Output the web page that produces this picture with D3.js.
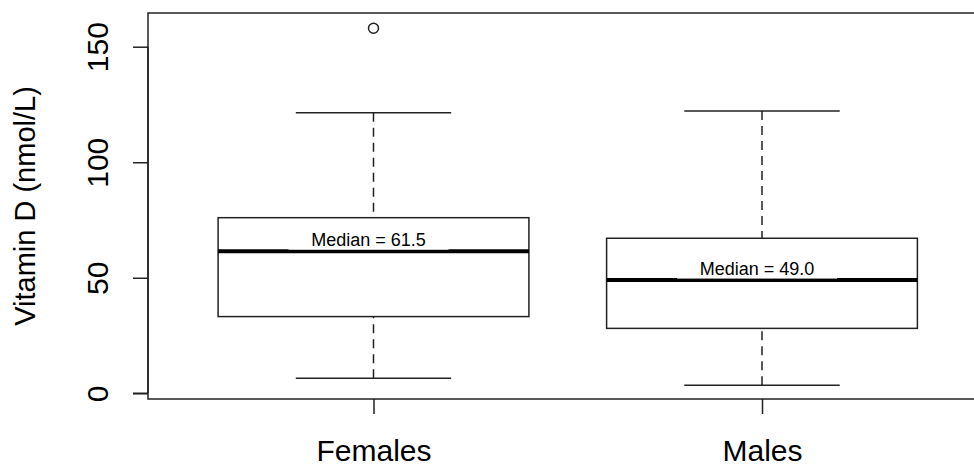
<!DOCTYPE html>
<html lang="en">
<head>
<style>
html, body {
    margin: 0;
    padding: 0;
    background: #fff;
}
svg {
    width: 974px;
    height: 466px;
    display: block;
    font-family: "Liberation Sans", Arial, sans-serif;
}
</style>
</head>
<body>
<svg></svg>

<script src="https://cdn.jsdelivr.net/npm/d3@7/dist/d3.min.js"></script>
<script>
// boxplot of vitamin D by sex (R style)

var groups = ["Females", "Males"];
var lowWhisker = [6.5, 3.5];
var q1 = [33.2, 28.1];
var medians = [61.5, 49.0];
var q3 = [76.0, 67.1];
var highWhisker = [121.4, 122.2];
var outliers = [[158], []];
var yTicks = [0, 50, 100, 150];
var yTitle = "Vitamin D (nmol/L)";

var svg = d3.select("svg");
var ink = "#222";

// plot region (frame), right side runs off the picture
var frame = {left: 148, top: 13, right: 986, bottom: 399};

var yScale = d3.scaleLinear()
    .domain([0, 150])
    .range([393.3, 46.7]);

var xScale = d3.scaleLinear()
    .domain([1, 2])
    .range([373.5, 762]);

var boxW = xScale(1.8) - xScale(1);
var capW = boxW / 2;

var data = groups.map(function(g, i) {
    return {name: g, pos: i + 1, lo: lowWhisker[i], q1: q1[i], med: medians[i],
            q3: q3[i], hi: highWhisker[i], out: outliers[i]};
});

/////////////////////////////////////////
// frame
/////////////////////////////////////////
svg.append("rect")
    .attr("x", frame.left)
    .attr("y", frame.top)
    .attr("width", frame.right - frame.left)
    .attr("height", frame.bottom - frame.top)
    .attr("fill", "none")
    .attr("stroke", ink)
    .attr("stroke-width", 1.5);

/////////////////////////////////////////
// y axis
/////////////////////////////////////////
var yAxis = svg.append("g")
    .attr("transform", "translate(" + frame.left + ",0)")
    .call(d3.axisLeft(yScale).tickValues(yTicks).tickSize(15).tickFormat(d3.format("d")));

yAxis.select(".domain")
    .attr("d", "M-15," + yScale(0) + "H0M0," + yScale(0) + "V" + yScale(150))
    .attr("stroke", ink)
    .attr("stroke-width", 1.5);
yAxis.selectAll(".tick line").attr("stroke", ink).attr("stroke-width", 1.5);
yAxis.selectAll(".tick text")
    .attr("x", null).attr("dy", null)
    .attr("transform", "translate(-40,0) rotate(-90)")
    .attr("text-anchor", "middle")
    .attr("fill", "#000")
    .style("font-size", "30px")
    .style("font-family", "Liberation Sans, Arial, sans-serif");

svg.append("text")
    .attr("transform", "translate(35," + ((frame.top + frame.bottom) / 2) + ") rotate(-90)")
    .attr("text-anchor", "middle")
    .style("font-size", "29px")
    .text(yTitle);

/////////////////////////////////////////
// x axis
/////////////////////////////////////////
var xAxis = svg.append("g")
    .attr("transform", "translate(0," + frame.bottom + ")")
    .call(d3.axisBottom(xScale).tickValues([1, 2]).tickSize(15)
        .tickFormat(function(d) { return groups[d - 1]; }));

xAxis.select(".domain").remove();
xAxis.selectAll(".tick line").attr("stroke", ink).attr("stroke-width", 1.5);
xAxis.selectAll(".tick text")
    .attr("y", 62).attr("dy", null)
    .attr("fill", "#000")
    .style("font-size", "30px")
    .style("font-family", "Liberation Sans, Arial, sans-serif");

/////////////////////////////////////////
// boxes
/////////////////////////////////////////
var box = svg.selectAll(".box")
    .data(data)
    .enter().append("g")
    .attr("class", "box");

// dashed whiskers
box.append("line")
    .attr("x1", function(d) { return xScale(d.pos); })
    .attr("x2", function(d) { return xScale(d.pos); })
    .attr("y1", function(d) { return yScale(d.hi); })
    .attr("y2", function(d) { return yScale(d.q3); })
    .attr("stroke", ink).attr("stroke-width", 1.5)
    .attr("stroke-dasharray", "9,6");

box.append("line")
    .attr("x1", function(d) { return xScale(d.pos); })
    .attr("x2", function(d) { return xScale(d.pos); })
    .attr("y1", function(d) { return yScale(d.lo); })
    .attr("y2", function(d) { return yScale(d.q1); })
    .attr("stroke", ink).attr("stroke-width", 1.5)
    .attr("stroke-dasharray", "9,6");

// caps
["hi", "lo"].forEach(function(k) {
    box.append("line")
        .attr("x1", function(d) { return xScale(d.pos) - capW / 2; })
        .attr("x2", function(d) { return xScale(d.pos) + capW / 2; })
        .attr("y1", function(d) { return yScale(d[k]); })
        .attr("y2", function(d) { return yScale(d[k]); })
        .attr("stroke", ink).attr("stroke-width", 1.5);
});

box.append("rect")
    .attr("x", function(d) { return xScale(d.pos) - boxW / 2; })
    .attr("y", function(d) { return yScale(d.q3); })
    .attr("width", boxW)
    .attr("height", function(d) { return yScale(d.q1) - yScale(d.q3); })
    .attr("fill", "#fff")
    .attr("stroke", ink).attr("stroke-width", 1.5);

box.append("line")
    .attr("x1", function(d) { return xScale(d.pos) - boxW / 2; })
    .attr("x2", function(d) { return xScale(d.pos) + boxW / 2; })
    .attr("y1", function(d) { return yScale(d.med); })
    .attr("y2", function(d) { return yScale(d.med); })
    .attr("stroke", "#000").attr("stroke-width", 4);

// outliers
box.selectAll(".out")
    .data(function(d) { return d.out.map(function(v) { return {pos: d.pos, v: v}; }); })
    .enter().append("circle")
    .attr("cx", function(d) { return xScale(d.pos); })
    .attr("cy", function(d) { return yScale(d.v); })
    .attr("r", 5)
    .attr("fill", "none")
    .attr("stroke", ink).attr("stroke-width", 1.5);

// median labels with white background
box.append("rect")
    .attr("x", function(d) { return xScale(d.pos) - 5 - 80; })
    .attr("y", function(d) { return yScale(d.med) - 22; })
    .attr("width", 160)
    .attr("height", 20.5)
    .attr("fill", "#fff");

box.append("text")
    .attr("x", function(d) { return xScale(d.pos) - 5; })
    .attr("y", function(d) { return yScale(d.med) - 5.5; })
    .attr("text-anchor", "middle")
    .style("font-size", "18px")
    .text(function(d) { return "Median = " + d.med.toFixed(1); });
</script>
</body>
</html>
